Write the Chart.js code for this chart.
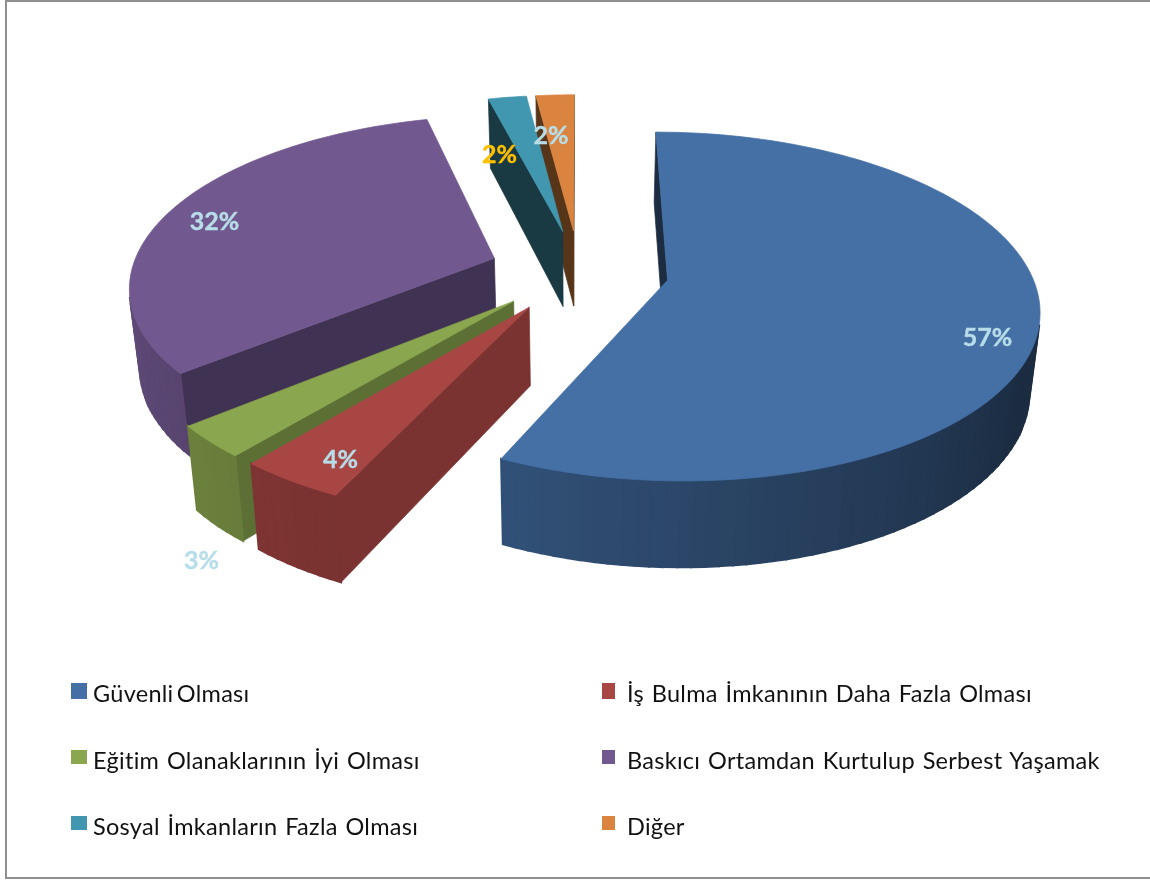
<!DOCTYPE html>
<html lang="tr">
<head>
<meta charset="utf-8">
<style>
html,body{margin:0;padding:0;background:#fff;width:1150px;height:880px;overflow:hidden}
#frame{position:absolute;left:5px;top:0;width:1160px;height:875px;border:2px solid #8f8f8f}
canvas{position:absolute;left:0;top:0}
.sw{position:absolute}
.lt{position:absolute;font-family:Lato,sans-serif;font-size:23.5px;line-height:26px;letter-spacing:.28px;word-spacing:1.5px;color:#111;white-space:pre}
</style>
<script src="https://cdn.jsdelivr.net/npm/chart.js@4"></script>
</head>
<body>
<div id="frame"></div>
<canvas id="c" width="1150" height="880"></canvas>
<div id="legend"></div>
<script>
const categories = ["Güvenli Olması","İş Bulma İmkanının Daha Fazla Olması","Eğitim Olanaklarının İyi Olması","Baskıcı Ortamdan Kurtulup Serbest Yaşamak","Sosyal İmkanların Fazla Olması","Diğer"];
const values = [57,4,3,32,2,2];
const colors = ["#4570A6","#A84644","#8AA64E","#71588F","#4197AF","#DA843F"];
const wallShade = [0.40,0.73,0.67,0.57,0.38,0.40];
const labelColors = ["#B7DDE8","#B7DDE8","#B7DDE8","#B7DDE8","#FFC000","#B7DDE8"];
const labelNudgeX = [62,-29,-107,-51,-23,-9];
const labelNudgeY = [31,36,165,-2,21,4];

// projection of the pie plane into the 3D view
const VIEW = {cx:579, cy:271, tilt:0.462, persp:0.15, depth:75, depthGrow:0.045, depthY:229, taper:0.977};

function shadeColor(hex,f){
  const n=parseInt(hex.slice(1),16);
  return `rgb(${Math.round((n>>16&255)*f)},${Math.round((n>>8&255)*f)},${Math.round((n&255)*f)})`;
}
function rimShade(a){
  let d=((a+Math.PI/2)*180/Math.PI+360)%360; // degrees clockwise from top
  if(d<=120) return 0.40;
  if(d<=205) return 0.40+(d-120)/85*0.32;
  if(d<=260) return 0.72+(d-205)/55*0.12;
  return 0.84;
}
function project(dx,dy,R){
  const w=1/(1-VIEW.persp*dy/R);
  return {x:VIEW.cx+dx*w, y:VIEW.cy+dy*VIEW.tilt*w};
}
function lower(p){
  return {x:VIEW.cx+(p.x-VIEW.cx)*VIEW.taper, y:p.y+VIEW.depth+(p.y-VIEW.depthY)*VIEW.depthGrow};
}
function poly(ctx,pts,fill,lw){
  ctx.beginPath();
  pts.forEach((p,i)=>i?ctx.lineTo(p.x,p.y):ctx.moveTo(p.x,p.y));
  ctx.closePath();
  ctx.fillStyle=fill;ctx.strokeStyle=fill;ctx.lineWidth=lw||0.7;
  ctx.fill();ctx.stroke();
}
function wallVisible(a,b){
  const la=lower(a);
  return (b.x-a.x)*(la.y-a.y)-(b.y-a.y)*(la.x-a.x)<0;
}
function sliceGeom(arc){
  const R=arc.outerRadius, off=arc.options.offset||0;
  const mid=(arc.startAngle+arc.endAngle)/2;
  const ox=Math.cos(mid)*off, oy=Math.sin(mid)*off;
  const pt=(a,r)=>project(ox+Math.cos(a)*r,oy+Math.sin(a)*r,R);
  return {R,mid,ox,oy,pt};
}
const pie3d={
  id:'pie3d',
  beforeDatasetsDraw(chart){
    const ctx=chart.ctx, arcs=chart.getDatasetMeta(0).data;
    const order=arcs.map((a,i)=>i).sort((i,j)=>sliceGeom(arcs[i]).oy-sliceGeom(arcs[j]).oy);
    ctx.save();
    order.forEach(i=>{
      const arc=arcs[i], g=sliceGeom(arc), col=colors[i];
      const n=Math.max(6,Math.ceil((arc.endAngle-arc.startAngle)*30));
      const rim=[];
      for(let k=0;k<=n;k++){rim.push({a:arc.startAngle+(arc.endAngle-arc.startAngle)*k/n,p:null});rim[k].p=g.pt(rim[k].a,g.R);}
      const apex=g.pt(0,0);
      const wall=(a,b)=>{ if(wallVisible(a,b)) poly(ctx,[a,b,lower(b),lower(a)],shadeColor(col,wallShade[i])); };
      wall(apex,rim[0].p);
      wall(rim[n].p,apex);
      for(let k=0;k<n;k++){
        const a=rim[k].p,b=rim[k+1].p;
        if(wallVisible(a,b)) poly(ctx,[a,b,lower(b),lower(a)],shadeColor(col,rimShade((rim[k].a+rim[k+1].a)/2)),2);
      }
      poly(ctx,[apex].concat(rim.map(r=>r.p)),col);
    });
    ctx.restore();
    return false;
  },
  afterDraw(chart){
    const ctx=chart.ctx, arcs=chart.getDatasetMeta(0).data;
    ctx.save();
    ctx.font='bold 25px Lato, sans-serif';
    ctx.textAlign='center';ctx.textBaseline='middle';ctx.lineWidth=0.4;
    arcs.forEach((arc,i)=>{
      const g=sliceGeom(arc), p=g.pt(g.mid,g.R*0.7);
      ctx.fillStyle=labelColors[i];ctx.strokeStyle=labelColors[i];
      ctx.fillText(values[i]+'%',p.x+labelNudgeX[i],p.y+labelNudgeY[i]);
      ctx.strokeText(values[i]+'%',p.x+labelNudgeX[i],p.y+labelNudgeY[i]);
    });
    ctx.restore();
  }
};
new Chart(document.getElementById('c'),{
  type:'pie',
  data:{labels:categories,datasets:[{data:values,backgroundColor:colors,borderWidth:0,offset:90,radius:363}]},
  options:{responsive:false,animation:false,events:[],plugins:{legend:{display:false},tooltip:{enabled:false}}},
  plugins:[pie3d]
});
// two-column legend built from the data arrays
const legendX=[71,602], textX=[93,627], swW=[16,13], rowTop=[683,750,816], rowH=[16,14,14], textTop=[680,747,813];
const host=document.getElementById('legend');
categories.forEach((name,i)=>{
  const col=i%2,row=Math.floor(i/2);
  const s=document.createElement('div');s.className='sw';
  s.style.cssText=`left:${legendX[col]}px;top:${rowTop[row]}px;width:${swW[col]}px;height:${rowH[row]}px;background:${colors[i]}`;
  const t=document.createElement('div');t.className='lt';t.textContent=name;
  t.style.left=textX[col]+'px';t.style.top=textTop[row]+'px';
  if(i===0) t.style.wordSpacing='-3px';
  host.append(s,t);
});
</script>
</body>
</html>
